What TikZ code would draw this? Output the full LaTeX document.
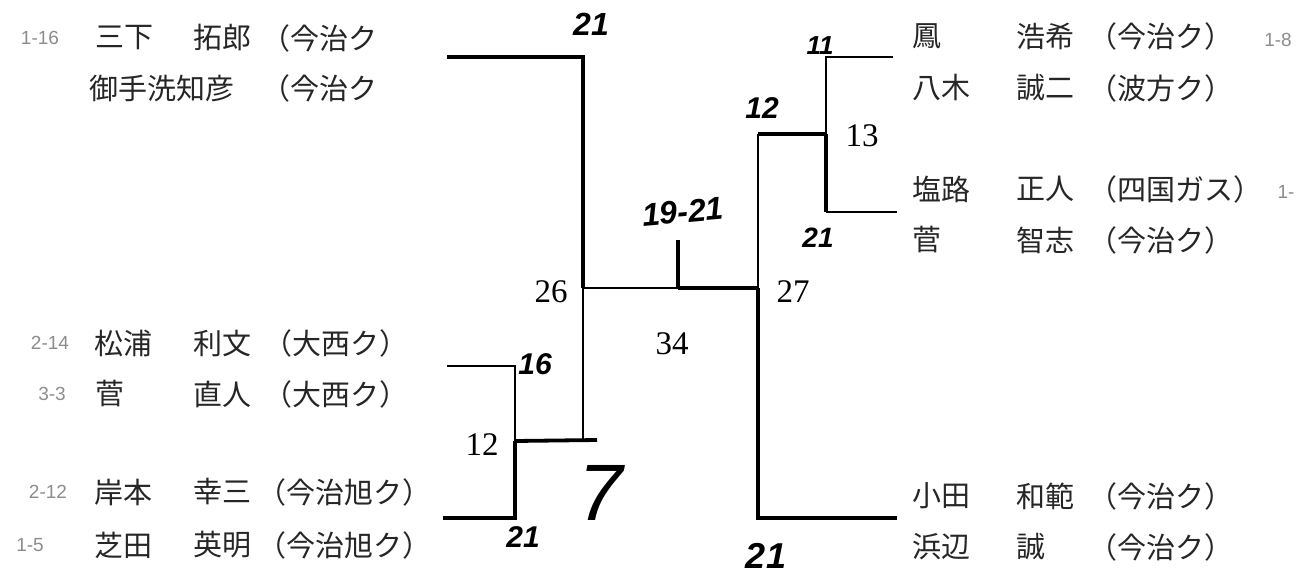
\documentclass[tikz,border=0pt]{standalone}
\usepackage{fontspec}
\setmainfont{Liberation Serif}
\newfontfamily\jpfont{Noto Sans CJK JP}
\newfontfamily\handfont{Liberation Sans}
\begin{document}
\begin{tikzpicture}[x=1pt,y=-1pt,
  nm/.style={font=\jpfont\fontsize{29}{29}\selectfont, anchor=west, inner sep=0pt, text=black!85},
  num/.style={font=\fontsize{33}{33}\selectfont, inner sep=0pt},
  hw/.style={font=\handfont\itshape\bfseries\fontsize{32}{32}\selectfont, inner sep=0pt},
  note/.style={font=\handfont\fontsize{19}{19}\selectfont, text=black!45, inner sep=0pt},
  lnthin/.style={line width=1.5pt},
  lnthick/.style={line width=3.8pt},
  lnmid/.style={line width=2.6pt}]
\useasboundingbox (0,0) rectangle (1303,576);

% ---- left names ----
\node[note] (n1) at (40,38) {1-16};
\node[nm] (s1) at (95,38) {三下};
\node[nm] (g1) at (193,38) {拓郎};
\node[nm] (c1) at (261,38) {（今治ク};
\node[nm] (s2) at (89,88) {御手洗知彦};
\node[nm] (c2) at (261,88) {（今治ク};

\node[note] (n3) at (50,343) {2-14};
\node[nm] (s3) at (94,343) {松浦};
\node[nm] (g3) at (193,343) {利文};
\node[nm] (c3) at (263,343) {（大西ク）};
\node[note] (n4) at (52,394) {3-3};
\node[nm] (s4) at (95,394) {菅};
\node[nm] (g4) at (193,394) {直人};
\node[nm] (c4) at (263,394) {（大西ク）};

\node[note] (n5) at (48,492) {2-12};
\node[nm] (s5) at (94,492) {岸本};
\node[nm] (g5) at (193,492) {幸三};
\node[nm] (c5) at (257,492) {（今治旭ク）};
\node[note] (n6) at (30,545) {1-5};
\node[nm] (s6) at (94,545) {芝田};
\node[nm] (g6) at (193,545) {英明};
\node[nm] (c6) at (257,545) {（今治旭ク）};

% ---- right names ----
\node[nm] (s7) at (912,36) {鳳};
\node[nm] (g7) at (1016,36) {浩希};
\node[nm] (c7) at (1088,36) {（今治ク）};
\node[note] (n7) at (1278,40) {1-8};
\node[nm] (s8) at (912,88) {八木};
\node[nm] (g8) at (1016,88) {誠二};
\node[nm] (c8) at (1088,88) {（波方ク）};

\node[nm] (s9) at (912,189) {塩路};
\node[nm] (g9) at (1016,189) {正人};
\node[nm] (c9) at (1088,189) {（四国ガス）};
\node[note] (n9) at (1286,192) {1-};
\node[nm] (s10) at (912,240) {菅};
\node[nm] (g10) at (1016,240) {智志};
\node[nm] (c10) at (1088,240) {（今治ク）};

\node[nm] (s11) at (912,496) {小田};
\node[nm] (g11) at (1016,496) {和範};
\node[nm] (c11) at (1088,496) {（今治ク）};
\node[nm] (s12) at (912,547) {浜辺};
\node[nm] (g12) at (1016,547) {誠};
\node[nm] (c12) at (1088,547) {（今治ク）};

% ---- bracket points ----
\coordinate (a1) at (447,57);
\coordinate (a2) at (583,57);
\coordinate (j26) at (583,288);
\coordinate (a3) at (583,440);
\coordinate (a4) at (597,440);
\coordinate (b1) at (447,366);
\coordinate (b2) at (515,366);
\coordinate (b3) at (515,441);
\coordinate (b4) at (515,518);
\coordinate (b5) at (443,518);
\coordinate (m) at (678,288);
\coordinate (m2) at (678,240);
\coordinate (j27) at (758,288);
\coordinate (r1) at (758,134);
\coordinate (r2) at (826,134);
\coordinate (r3) at (826,57);
\coordinate (r4) at (893,57);
\coordinate (r5) at (826,212);
\coordinate (r6) at (897,212);
\coordinate (r7) at (758,518);
\coordinate (r8) at (897,518);

% ---- bracket lines ----
\draw[lnthick] (a1) -- (a2) -- (j26);
\draw[lnthin] (j26) -- (a3);
\draw[lnthick] (b3) -- (a4);
\draw[lnthin] (b1) -- (b2) -- (b3);
\draw[lnthick] (b3) -- (b4) -- (b5);
\draw[lnthin] (j26) -- (m);
\draw[lnthick] (m) -- (j27);
\draw[lnthick] (m) -- (m2);
\draw[lnthin] (j27) -- (r1);
\draw[lnthick] (r1) -- (r2);
\draw[lnthin] (r2) -- (r3) -- (r4);
\draw[lnthick] (r2) -- (r5);
\draw[lnmid] (r5) -- (r6);
\draw[lnthick] (j27) -- (r7) -- (r8);

% ---- printed scores ----
\node[num] (p26) at (551,292) {26};
\node[num] (p27) at (793,292) {27};
\node[num] (p34) at (672,344) {34};
\node[num] (p13) at (862,136) {13};
\node[num] (p12) at (482,445) {12};

% ---- handwritten scores ----
\node[hw] (h1) at (591,24) {21};
\node[hw, font=\handfont\itshape\bfseries\fontsize{26}{26}\selectfont] (h2) at (820,46) {11};
\node[hw, font=\handfont\itshape\bfseries\fontsize{30}{30}\selectfont] (h3) at (762,108) {12};
\node[hw, rotate=5] (h4) at (683,212) {19-21};
\node[hw, font=\handfont\itshape\bfseries\fontsize{28}{28}\selectfont] (h5) at (818,238) {21};
\node[hw, font=\handfont\itshape\bfseries\fontsize{30}{30}\selectfont] (h6) at (535,364) {16};
\node[hw, font=\handfont\itshape\fontsize{80}{80}\selectfont] (h7) at (601,493) {7};
\node[hw, font=\handfont\itshape\bfseries\fontsize{30}{30}\selectfont] (h8) at (523,537) {21};
\node[hw, font=\handfont\itshape\bfseries\fontsize{36}{36}\selectfont] (h9) at (766,556) {21};
\end{tikzpicture}
\end{document}
